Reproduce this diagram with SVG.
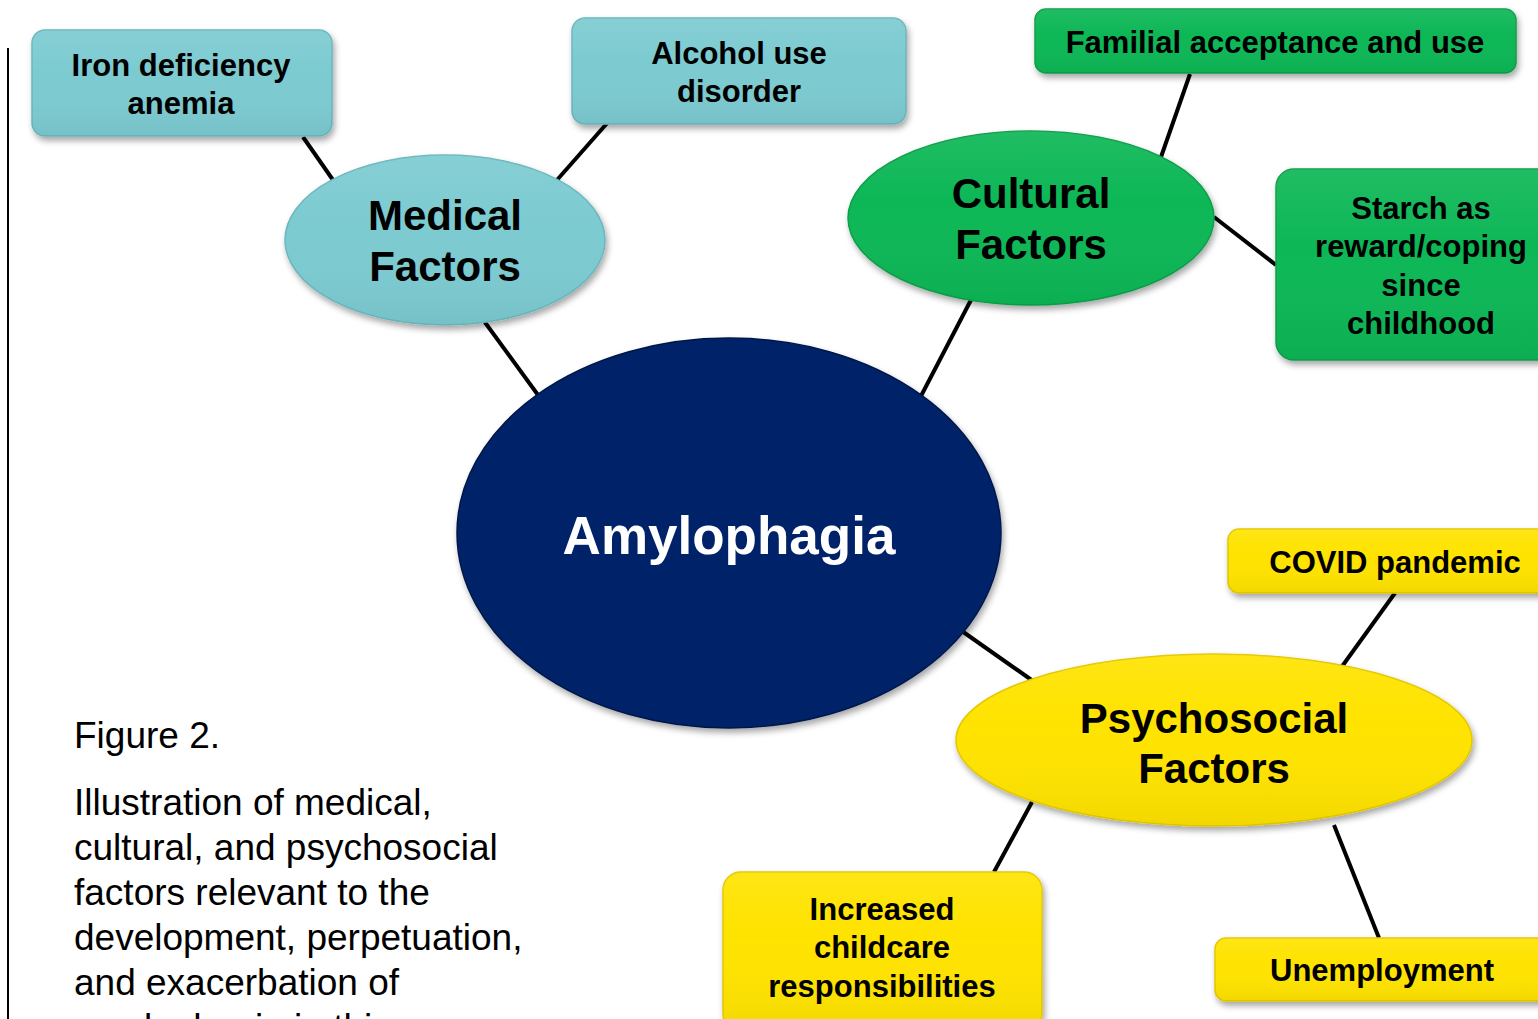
<svg xmlns="http://www.w3.org/2000/svg" width="1538" height="1019" viewBox="0 0 1538 1019">
<style>
.t{font-family:"Liberation Sans",Arial,sans-serif;font-weight:bold;fill:#000;text-anchor:middle}
.s{font-size:31px}
.b{font-size:42px}
.cap{font-family:"Liberation Sans",Arial,sans-serif;font-size:37px;fill:#000}
.teal{fill:#7BCBD1;stroke:#6AB7BD;stroke-width:1.5}
.green{fill:#0DB757;stroke:#0A9E49;stroke-width:1.5}
.yellow{fill:#FFE300;stroke:#E3C800;stroke-width:1.5}
.navy{fill:#062468;stroke:#03184A;stroke-width:1.5}
.c line{stroke:#000;stroke-width:4;stroke-linecap:butt}
</style>
<defs>
<filter id="sh" x="-10%" y="-10%" width="125%" height="130%">
<feDropShadow dx="2" dy="4" stdDeviation="3" flood-color="#000" flood-opacity="0.35"/>
</filter>
<linearGradient id="gl" x1="0" y1="0" x2="0" y2="1">
<stop offset="0" stop-color="#fff" stop-opacity="0.08"/>
<stop offset="0.4" stop-color="#fff" stop-opacity="0"/>
<stop offset="1" stop-color="#000" stop-opacity="0.05"/>
</linearGradient>
</defs>
<rect width="1538" height="1019" fill="#fff"/>
<line x1="8" y1="48" x2="8" y2="1019" stroke="#000" stroke-width="2"/>
<g class="c" id="connectors">
<line x1="303" y1="137" x2="333" y2="180"/>
<line x1="609" y1="121" x2="557" y2="180"/>
<line x1="484" y1="321" x2="538" y2="395"/>
<line x1="972" y1="298" x2="921" y2="396"/>
<line x1="1190" y1="74" x2="1161" y2="157"/>
<line x1="1214" y1="217" x2="1276" y2="265"/>
<line x1="959" y1="629" x2="1033" y2="681"/>
<line x1="1395" y1="593" x2="1338" y2="672"/>
<line x1="1032" y1="802" x2="994" y2="872"/>
<line x1="1334" y1="825" x2="1379" y2="938"/>
</g>
<g id="iron">
<rect x="32" y="30" width="300" height="106" rx="13" class="teal" filter="url(#sh)"/>
<rect x="32" y="30" width="300" height="106" rx="13" fill="url(#gl)"/>
<text class="t s" x="181" y="76">Iron deficiency</text>
<text class="t s" x="181" y="114">anemia</text>
</g>
<g id="alcohol">
<rect x="572" y="18" width="334" height="106" rx="13" class="teal" filter="url(#sh)"/>
<rect x="572" y="18" width="334" height="106" rx="13" fill="url(#gl)"/>
<text class="t s" x="739" y="64">Alcohol use</text>
<text class="t s" x="739" y="102">disorder</text>
</g>
<g id="medical">
<ellipse cx="445" cy="240" rx="160" ry="85" class="teal" filter="url(#sh)"/>
<ellipse cx="445" cy="240" rx="160" ry="85" fill="url(#gl)"/>
<text class="t b" x="445" y="230">Medical</text>
<text class="t b" x="445" y="281">Factors</text>
</g>
<g id="familial">
<rect x="1035" y="9" width="481" height="64" rx="11" class="green" filter="url(#sh)"/>
<rect x="1035" y="9" width="481" height="64" rx="11" fill="url(#gl)"/>
<text class="t s" x="1275" y="53">Familial acceptance and use</text>
</g>
<g id="cultural">
<ellipse cx="1031" cy="218" rx="183" ry="87" class="green" filter="url(#sh)"/>
<ellipse cx="1031" cy="218" rx="183" ry="87" fill="url(#gl)"/>
<text class="t b" x="1031" y="208">Cultural</text>
<text class="t b" x="1031" y="259">Factors</text>
</g>
<g id="starch">
<rect x="1276" y="169" width="290" height="191" rx="18" class="green" filter="url(#sh)"/>
<rect x="1276" y="169" width="290" height="191" rx="18" fill="url(#gl)"/>
<text class="t s" x="1421" y="219">Starch as</text>
<text class="t s" x="1421" y="257">reward/coping</text>
<text class="t s" x="1421" y="296">since</text>
<text class="t s" x="1421" y="334">childhood</text>
</g>
<g id="amylophagia">
<ellipse cx="729" cy="533" rx="272" ry="195" class="navy" filter="url(#sh)"/>
<text class="t" x="729" y="554" style="font-size:53px;fill:#fff">Amylophagia</text>
</g>
<g id="covid">
<rect x="1228" y="529" width="330" height="64" rx="11" class="yellow" filter="url(#sh)"/>
<rect x="1228" y="529" width="330" height="64" rx="11" fill="url(#gl)"/>
<text class="t s" x="1395" y="573">COVID pandemic</text>
</g>
<g id="psychosocial">
<ellipse cx="1214" cy="740" rx="258" ry="86" class="yellow" filter="url(#sh)"/>
<ellipse cx="1214" cy="740" rx="258" ry="86" fill="url(#gl)"/>
<text class="t b" x="1214" y="733">Psychosocial</text>
<text class="t b" x="1214" y="783">Factors</text>
</g>
<g id="childcare">
<rect x="723" y="872" width="319" height="160" rx="18" class="yellow" filter="url(#sh)"/>
<rect x="723" y="872" width="319" height="160" rx="18" fill="url(#gl)"/>
<text class="t s" x="882" y="920">Increased</text>
<text class="t s" x="882" y="958">childcare</text>
<text class="t s" x="882" y="997">responsibilities</text>
</g>
<g id="unemployment">
<rect x="1215" y="938" width="343" height="63" rx="11" class="yellow" filter="url(#sh)"/>
<rect x="1215" y="938" width="343" height="63" rx="11" fill="url(#gl)"/>
<text class="t s" x="1382" y="981">Unemployment</text>
</g>
<g id="caption">
<text class="cap" x="74" y="748">Figure 2.</text>
<text class="cap" x="74" y="815">Illustration of medical,</text>
<text class="cap" x="74" y="860">cultural, and psychosocial</text>
<text class="cap" x="74" y="905">factors relevant to the</text>
<text class="cap" x="74" y="950">development, perpetuation,</text>
<text class="cap" x="74" y="995">and exacerbation of</text>
<text class="cap" x="74" y="1040">amylophagia in this case</text>
</g>
</svg>
